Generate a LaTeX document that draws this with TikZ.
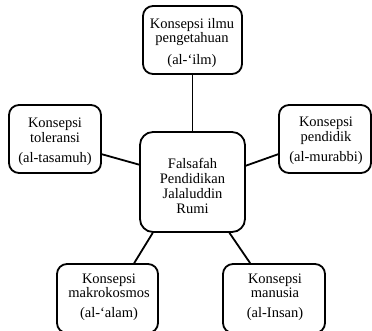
\documentclass[tikz,border=0pt]{standalone}
\usepackage{fontspec}
\setmainfont{Liberation Serif}
\begin{document}
\begin{tikzpicture}[x=1pt,y=-1pt,line width=1.8pt,
  boxshape/.style={draw, rounded corners=10pt, inner sep=0pt, fill=white},
  boxtext/.style={align=center, inner sep=0pt, font=\fontsize{14.5}{14.5}\selectfont},
  link/.style={draw, line width=1.8pt}
]
\useasboundingbox (0,0) rectangle (372,331);
\clip (0,0) rectangle (372,331);
% boxes
\node[boxshape, minimum width=99pt, minimum height=68pt] (top) at (192.5,40) {};
\node[boxshape, minimum width=92pt, minimum height=68pt] (left) at (55,139) {};
\node[boxshape, minimum width=92pt, minimum height=68pt] (right) at (325,139) {};
\node[boxshape, rounded corners=13pt, minimum width=105pt, minimum height=100pt] (center) at (192.5,182) {};
\node[boxshape, minimum width=101pt, minimum height=69pt] (bl) at (107.5,298.5) {};
\node[boxshape, minimum width=102pt, minimum height=69pt] (br) at (274,298.5) {};
% texts
\node[boxtext] (toptext) at (192,43) {Konsepsi ilmu\\pengetahuan\\[7pt](al-‘ilm)};
\node[boxtext] (lefttext) at (55,141.6) {Konsepsi\\toleransi\\[5.5pt](al-tasamuh)};
\node[boxtext] (righttext) at (326,141) {Konsepsi\\pendidik\\[6pt](al-murabbi)};
\node[boxtext, font=\fontsize{14.5}{15}\selectfont] (centertext) at (192.5,185.5) {Falsafah\\Pendidikan\\Jalaluddin\\Rumi};
\node[boxtext] (bltext) at (109,297) {Konsepsi\\makrokosmos\\[5.5pt](al-‘alam)};
\node[boxtext] (brtext) at (275,297) {Konsepsi\\manusia\\[5.5pt](al-Insan)};
% connectors
\path[link] (top.south) -- (center.north);
\path[link] (left.342) -- (center.162.1);
\path[link] (right.198) -- (center.17.9);
\path[link] (bl.53.5) -- (center.232.4);
\path[link] (br.124.8) -- (center.306.1);
\end{tikzpicture}
\end{document}
